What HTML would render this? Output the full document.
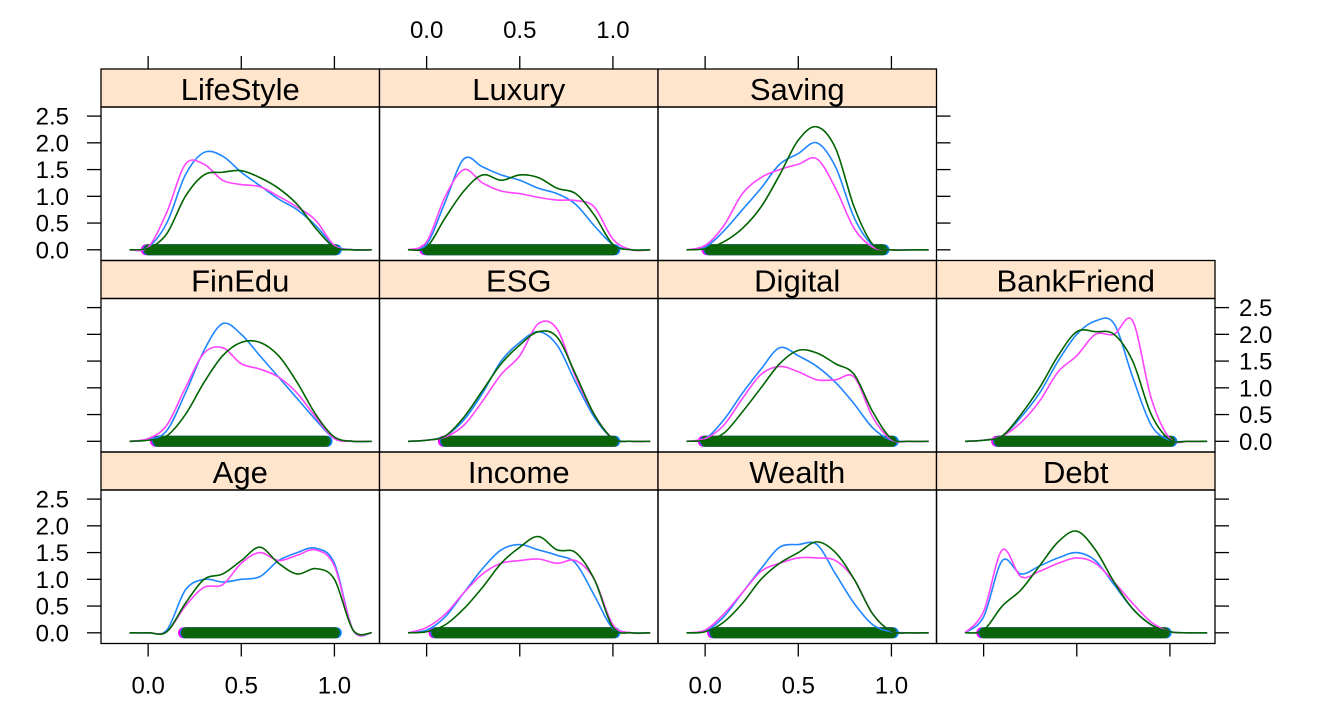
<!DOCTYPE html>
<html><head><meta charset="utf-8"><style>
body{margin:0;background:#fff;}
svg text{font-family:"Liberation Sans",Arial,sans-serif;}
</style></head><body>
<svg id="c" width="1330" height="712" xmlns="http://www.w3.org/2000/svg"></svg>
<script>
const gridX=[-0.1,0,0.1,0.2,0.3,0.4,0.5,0.6,0.7,0.8,0.9,1.0,1.1,1.2];
const panelNames=["Age","Income","Wealth","Debt","FinEdu","ESG","Digital","BankFriend","LifeStyle","Luxury","Saving"];
const blueVals={
LifeStyle:[0,0.05,0.5,1.4,1.82,1.75,1.45,1.2,0.95,0.75,0.45,0.08,0,0],
Luxury:[0,0.1,0.9,1.7,1.55,1.4,1.3,1.15,1.05,0.85,0.45,0.1,0,0],
Saving:[0,0.05,0.35,0.75,1.15,1.6,1.8,2.0,1.55,0.6,0.08,0,0,0],
FinEdu:[0,0.03,0.2,0.9,1.7,2.2,2.0,1.6,1.2,0.8,0.4,0.05,0,0],
ESG:[0,0.02,0.1,0.4,0.9,1.5,1.85,2.05,1.8,1.1,0.45,0.05,0,0],
Digital:[0,0.05,0.4,0.9,1.35,1.75,1.6,1.4,1.1,0.7,0.25,0.02,0,0],
BankFriend:[0,0.02,0.1,0.45,0.9,1.5,2.0,2.25,2.2,1.2,0.3,0.02,0,0],
Age:[0,0,0.05,0.8,1.0,0.95,1.0,1.05,1.35,1.5,1.58,1.3,0.05,0],
Income:[0,0.05,0.3,0.75,1.2,1.55,1.65,1.55,1.45,1.3,0.7,0.08,0,0],
Wealth:[0,0.03,0.3,0.75,1.2,1.6,1.65,1.65,1.1,0.55,0.15,0.02,0,0],
Debt:[0,0.3,1.35,1.1,1.25,1.4,1.5,1.35,0.9,0.45,0.15,0.02,0,0]};
const magVals={
LifeStyle:[0,0.05,0.7,1.6,1.6,1.3,1.22,1.18,1.0,0.8,0.55,0.08,0,0],
Luxury:[0,0.15,1.0,1.5,1.25,1.1,1.05,0.98,0.93,0.92,0.8,0.2,0,0],
Saving:[0,0.08,0.45,1.05,1.35,1.5,1.6,1.7,1.15,0.4,0.05,0,0,0],
FinEdu:[0,0.05,0.3,1.0,1.65,1.75,1.45,1.35,1.2,0.9,0.45,0.05,0,0],
ESG:[0,0.02,0.08,0.3,0.75,1.25,1.6,2.2,2.1,1.2,0.5,0.05,0,0],
Digital:[0,0.05,0.3,0.8,1.25,1.4,1.3,1.15,1.15,1.2,0.45,0.03,0,0],
BankFriend:[0,0.02,0.1,0.35,0.75,1.3,1.6,2.0,2.0,2.25,0.8,0.05,0,0],
Age:[0,0,0.02,0.5,0.85,0.9,1.3,1.5,1.35,1.45,1.55,1.25,0.05,0],
Income:[0,0.1,0.35,0.75,1.1,1.3,1.35,1.38,1.3,1.35,1.0,0.15,0,0],
Wealth:[0,0.05,0.35,0.75,1.15,1.3,1.4,1.4,1.35,1.0,0.35,0.03,0,0],
Debt:[0,0.4,1.55,1.05,1.15,1.3,1.4,1.3,0.95,0.55,0.2,0.02,0,0]};
const greenVals={
LifeStyle:[0,0.03,0.3,1.0,1.4,1.45,1.48,1.35,1.15,0.85,0.4,0.05,0,0],
Luxury:[0,0.05,0.6,1.1,1.4,1.3,1.4,1.35,1.15,1.05,0.65,0.1,0,0],
Saving:[0,0.02,0.15,0.4,0.8,1.4,2.05,2.3,1.9,0.8,0.1,0,0,0],
FinEdu:[0,0.02,0.1,0.5,1.1,1.6,1.85,1.85,1.6,1.1,0.5,0.08,0,0],
ESG:[0,0.02,0.1,0.45,0.95,1.45,1.8,2.05,1.95,1.25,0.5,0.05,0,0],
Digital:[0,0.02,0.15,0.55,1.0,1.45,1.7,1.65,1.45,1.25,0.55,0.05,0,0],
BankFriend:[0,0.02,0.1,0.5,1.0,1.6,2.05,2.05,2.0,1.5,0.5,0.03,0,0],
Age:[0,0,0.02,0.55,1.0,1.1,1.35,1.6,1.3,1.1,1.2,1.0,0.05,0],
Income:[0,0.02,0.15,0.45,0.85,1.3,1.6,1.8,1.55,1.5,1.0,0.1,0,0],
Wealth:[0,0.02,0.2,0.55,1.0,1.3,1.5,1.7,1.5,1.0,0.35,0.03,0,0],
Debt:[0,0.05,0.5,0.8,1.25,1.7,1.9,1.55,0.95,0.45,0.15,0.02,0,0]};
const rugMin={LifeStyle:0,Luxury:0,Saving:0.02,FinEdu:0.05,ESG:0.1,Digital:0,BankFriend:0.08,Age:0.2,Income:0.05,Wealth:0.05,Debt:0};
const rugMax={LifeStyle:1,Luxury:1,Saving:0.95,FinEdu:0.95,ESG:1,Digital:1,BankFriend:1,Age:1,Income:1,Wealth:1,Debt:0.97};
const xTicks=[0,0.5,1];
const xTickLabels=["0.0","0.5","1.0"];
const yTicks=[0,0.5,1,1.5,2,2.5];
const yTickLabels=["0.0","0.5","1.0","1.5","2.0","2.5"];

const svg=document.getElementById('c');
const NS="http://www.w3.org/2000/svg";
function mk(tag,attrs,parent){const e=document.createElementNS(NS,tag);for(const k in attrs)e.setAttribute(k,attrs[k]);(parent||svg).appendChild(e);return e;}
const L=101,T=69,CW=278.5,RH=191.5,SH=38;
const XMIN=-0.253,XMAX=1.242,YMIN=-0.2,YMAX=2.67;
function sx(col,v){return L+col*CW+(v-XMIN)/(XMAX-XMIN)*CW;}
function sy(row,v){const top=T+row*RH+SH,bot=T+(row+1)*RH;return bot-(v-YMIN)/(YMAX-YMIN)*(bot-top);}
function pathFor(col,row,vals){
  const p=gridX.map((x,i)=>[sx(col,x),sy(row,vals[i])]);
  let d="M"+p[0][0]+","+p[0][1];
  for(let i=0;i<p.length-1;i++){
    const p0=p[Math.max(0,i-1)],p1=p[i],p2=p[i+1],p3=p[Math.min(p.length-1,i+2)];
    const c1=[p1[0]+(p2[0]-p0[0])/6,p1[1]+(p2[1]-p0[1])/6];
    const c2=[p2[0]-(p3[0]-p1[0])/6,p2[1]-(p3[1]-p1[1])/6];
    d+=` C${c1[0]},${c1[1]} ${c2[0]},${c2[1]} ${p2[0]},${p2[1]}`;
  }
  return d;
}
panelNames.forEach((name,i)=>{
  const row=2-Math.floor(i/4), col=i%4;
  const g=mk('g',{});
  
  
  const x0=L+col*CW,y0=T+row*RH;
  const strip=mk('rect',{x:x0,y:y0,width:CW,height:SH,fill:'#ffe5cc',stroke:'#000','stroke-width':1.3},g);
  
  
  const st=mk('text',{x:x0+CW/2,y:y0+31,'font-size':31,'text-anchor':'middle',fill:'#000'},g);
  st.textContent=name;
  
  
  const fr=mk('rect',{x:x0,y:y0+SH,width:CW,height:RH-SH,fill:'none',stroke:'#000','stroke-width':1.3},g);
  
  
  const y0v=sy(row,0);
  const rm=mk('line',{x1:sx(col,rugMin[name]-0.01),x2:sx(col,rugMax[name]+0.005),y1:y0v,y2:y0v,stroke:'#ff00ff','stroke-width':11,'stroke-linecap':'round'},g);
  
  
  const rb=mk('line',{x1:sx(col,rugMin[name]),x2:sx(col,rugMax[name]+0.01),y1:y0v,y2:y0v,stroke:'#0080ff','stroke-width':11,'stroke-linecap':'round'},g);
  
  
  const rg=mk('line',{x1:sx(col,rugMin[name]+0.005),x2:sx(col,rugMax[name]),y1:y0v,y2:y0v,stroke:'#0a640a','stroke-width':11,'stroke-linecap':'round'},g);
  
  
  [[blueVals,'#1f86ff','blue'],[magVals,'#ff44ff','magenta'],[greenVals,'#006400','green']].forEach(([vals,color,nm])=>{
    const pth=mk('path',{d:pathFor(col,row,vals[name]),fill:'none',stroke:color,'stroke-width':1.6},g);
    
    
  });
});
function xAxis(col,yEdge,dir,labels){
  xTicks.forEach((t,i)=>{
    const x=sx(col,t);
    const tk=mk('line',{x1:x,x2:x,y1:yEdge,y2:yEdge+dir*13,stroke:'#000','stroke-width':1.3});
    
    
    if(labels){
      const tx=mk('text',{x:x,y:dir>0?yEdge+50:yEdge-31,'font-size':24,'text-anchor':'middle'});
      tx.textContent=xTickLabels[i];
      
      
    }
  });
}
function yAxis(row,xEdge,dir,labels){
  yTicks.forEach((t,i)=>{
    const y=sy(row,t);
    const tk=mk('line',{x1:xEdge,x2:xEdge+dir*14,y1:y,y2:y,stroke:'#000','stroke-width':1.3});
    
    
    if(labels){
      const tx=mk('text',{x:dir<0?xEdge-32:xEdge+24,y:y+8.5,'font-size':24,'text-anchor':dir<0?'end':'start'});
      tx.textContent=yTickLabels[i];
      
      
    }
  });
}
const bottom=T+3*RH;
xAxis(0,bottom,1,true);xAxis(1,bottom,1,false);xAxis(2,bottom,1,true);xAxis(3,bottom,1,false);
xAxis(0,T,-1,false);xAxis(1,T,-1,true);xAxis(2,T,-1,false);
yAxis(0,L,-1,true);yAxis(1,L,-1,false);yAxis(2,L,-1,true);
yAxis(0,L+3*CW,1,false);yAxis(1,L+4*CW,1,true);yAxis(2,L+4*CW,1,false);
</script>
</body></html>
